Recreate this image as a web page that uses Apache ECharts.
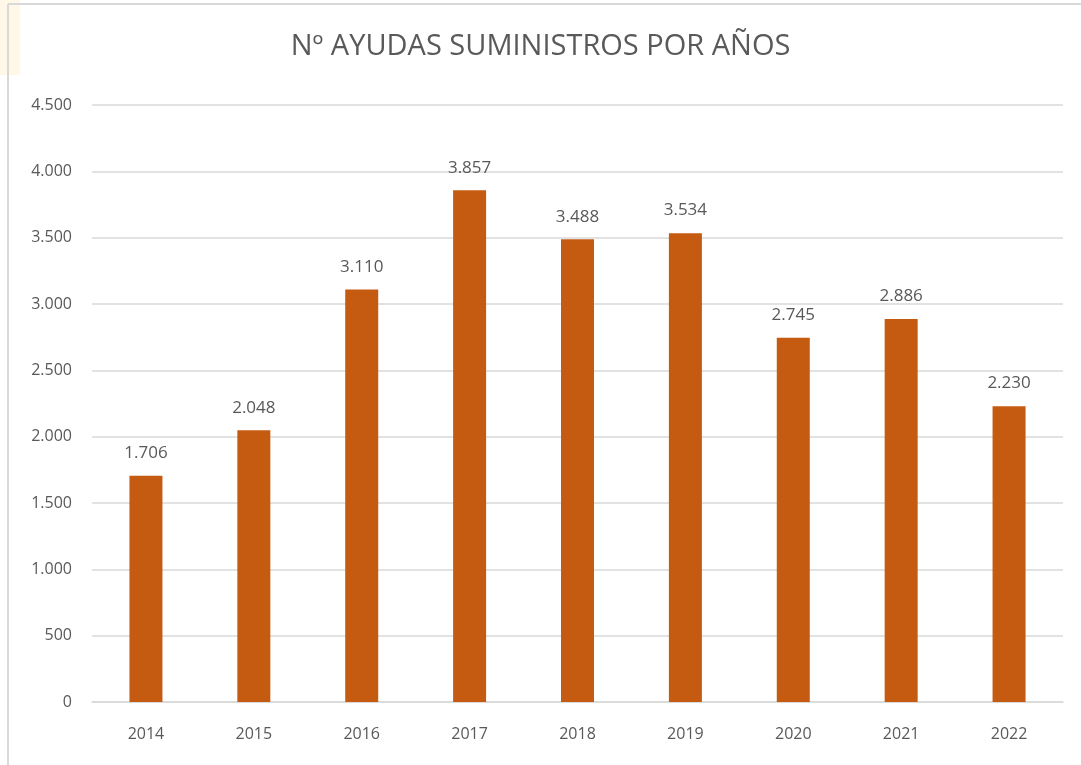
<!DOCTYPE html>
<html><head><meta charset="utf-8">
<script src="https://cdn.jsdelivr.net/npm/echarts@6/dist/echarts.min.js"></script>
<style>html,body{margin:0;padding:0;background:#fff;}#c{width:1081px;height:765px;}</style>
</head><body><div id="c"></div>
<script>
const titleText = 'Nº AYUDAS SUMINISTROS POR AÑOS';
const categories = ['2014','2015','2016','2017','2018','2019','2020','2021','2022'];
const values = [1706, 2048, 3110, 3857, 3488, 3534, 2745, 2886, 2230];
const yTicks = { min: 0, max: 4500, interval: 500 };

const fmt = v => String(v).replace(/\B(?=(\d{3})+(?!\d))/g, '.');
const chart = echarts.init(document.getElementById('c'), null, {renderer:'canvas'});
chart.setOption({
  animation: false,
  backgroundColor: '#fff',
  graphic: [
    {type:'rect', shape:{x:0,y:0,width:20,height:75}, style:{fill:'#fff8e6'}, z:-10},
    {type:'line', shape:{x1:8,y1:4,x2:1081,y2:4}, style:{stroke:'#d9d9d9', lineWidth:2}},
    {type:'line', shape:{x1:8,y1:4,x2:8,y2:765}, style:{stroke:'#d9d9d9', lineWidth:2}}
  ],
  title: {
    text: titleText, left: 'center', top: 27,
    textStyle: {fontFamily:'Open Sans', fontSize:29, fontWeight:'normal', color:'#595959'}
  },
  grid: {left: 92, right: 18, top: 105, bottom: 63, containLabel: false},
  xAxis: {
    type: 'category', data: categories,
    axisLine: {show:true, lineStyle:{color:'#d9d9d9', width:1.5}},
    axisTick: {show:false},
    axisLabel: {fontFamily:'Open Sans', fontSize:16, color:'#595959', margin:24}
  },
  yAxis: {
    type: 'value', min: yTicks.min, max: yTicks.max, interval: yTicks.interval,
    axisLine: {show:false}, axisTick:{show:false},
    splitLine: {lineStyle:{color:'#d9d9d9', width:1.5}},
    axisLabel: {fontFamily:'Open Sans', fontSize:16, color:'#595959', margin:20, formatter: fmt}
  },
  series: [{
    type: 'bar', data: values, barWidth: 33,
    itemStyle: {color:'#c55a11'},
    label: {show:true, position:'top', distance:14, fontFamily:'Open Sans', fontSize:17, color:'#595959', formatter: p => fmt(p.value)}
  }]
});
</script></body></html>
